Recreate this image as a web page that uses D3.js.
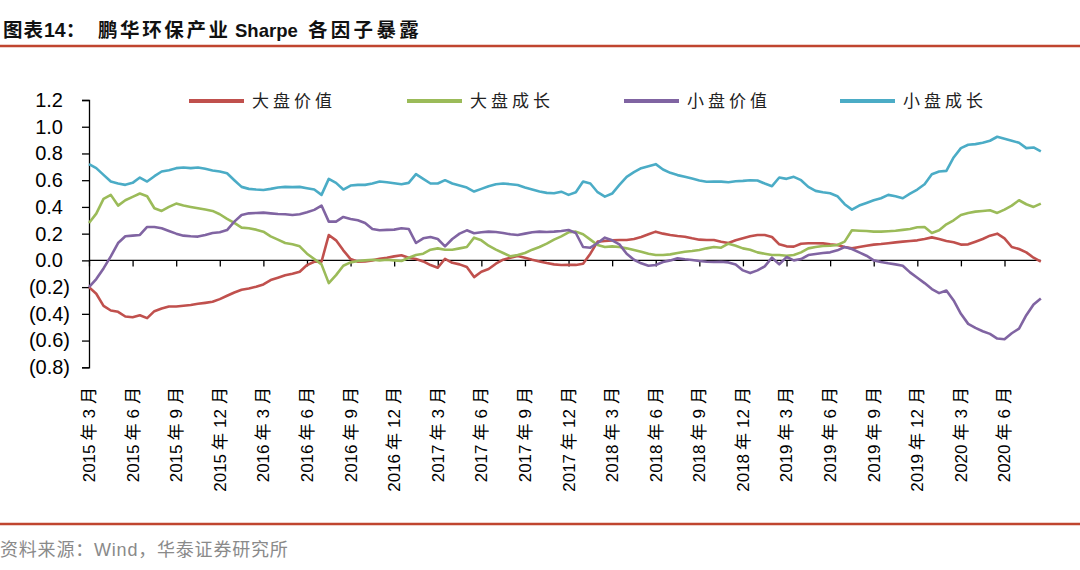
<!DOCTYPE html>
<html><head><meta charset="utf-8">
<script src="https://cdn.jsdelivr.net/npm/d3@7"></script>
<style>
html,body{margin:0;padding:0;background:#fff;}
svg{display:block;}
text{font-family:"Liberation Sans",Arial,"Noto Sans CJK SC",sans-serif;}
</style></head>
<body><svg id="c" width="1080" height="570"></svg>
<script>
// ---------- data ----------
const seriesNames = ["大盘价值","大盘成长","小盘价值","小盘成长"];
const seriesColors = ["#c0504d","#9bbb59","#8064a2","#4bacc6"];
const xTickLabels = ["2015年3月","2015年6月","2015年9月","2015年12月","2016年3月","2016年6月","2016年9月","2016年12月","2017年3月","2017年6月","2017年9月","2017年12月","2018年3月","2018年6月","2018年9月","2018年12月","2019年3月","2019年6月","2019年9月","2019年12月","2020年3月","2020年6月"];
const yTicks = [-0.8,-0.6,-0.4,-0.2,0,0.2,0.4,0.6,0.8,1.0,1.2];
// samples every half month starting 2015年3月
const largeValue = [-0.20,-0.25,-0.34,-0.375,-0.385,-0.42,-0.425,-0.41,-0.432,-0.38,-0.36,-0.345,-0.345,-0.34,-0.334,-0.325,-0.318,-0.31,-0.29,-0.265,-0.24,-0.22,-0.21,-0.197,-0.18,-0.147,-0.13,-0.112,-0.10,-0.085,-0.035,-0.01,-0.01,0.19,0.15,0.075,0.01,-0.01,-0.008,0.0,0.012,0.02,0.03,0.038,0.02,0.01,-0.008,-0.035,-0.055,0.012,-0.018,-0.03,-0.05,-0.125,-0.085,-0.065,-0.025,0.005,0.02,0.033,0.02,0.005,-0.008,-0.02,-0.03,-0.035,-0.034,-0.034,-0.025,0.05,0.14,0.145,0.15,0.153,0.153,0.16,0.175,0.195,0.215,0.20,0.19,0.182,0.177,0.165,0.155,0.152,0.153,0.14,0.13,0.15,0.165,0.18,0.19,0.19,0.175,0.12,0.105,0.103,0.125,0.128,0.128,0.127,0.12,0.115,0.10,0.09,0.10,0.11,0.118,0.122,0.128,0.135,0.14,0.145,0.15,0.16,0.172,0.16,0.145,0.135,0.118,0.12,0.14,0.16,0.185,0.20,0.165,0.10,0.085,0.06,0.02,-0.01];
const largeGrowth = [0.28,0.35,0.46,0.49,0.41,0.45,0.475,0.50,0.48,0.39,0.37,0.40,0.425,0.41,0.40,0.39,0.38,0.37,0.345,0.31,0.28,0.245,0.24,0.23,0.215,0.18,0.155,0.13,0.12,0.105,0.05,0.01,-0.03,-0.17,-0.11,-0.04,-0.015,-0.005,0.0,0.005,0.0,0.005,0.0,-0.005,0.02,0.04,0.05,0.08,0.09,0.08,0.08,0.09,0.10,0.17,0.15,0.11,0.08,0.055,0.03,0.04,0.055,0.08,0.10,0.125,0.155,0.18,0.21,0.215,0.195,0.155,0.115,0.10,0.105,0.10,0.09,0.078,0.065,0.05,0.04,0.04,0.045,0.055,0.065,0.07,0.078,0.09,0.10,0.095,0.125,0.11,0.09,0.08,0.06,0.05,0.04,0.04,0.035,0.04,0.06,0.09,0.10,0.108,0.11,0.115,0.14,0.225,0.222,0.22,0.215,0.215,0.218,0.222,0.228,0.235,0.248,0.25,0.205,0.225,0.27,0.30,0.34,0.355,0.365,0.37,0.375,0.355,0.38,0.41,0.45,0.42,0.40,0.425];
const smallValue = [-0.20,-0.14,-0.06,0.03,0.13,0.18,0.185,0.19,0.25,0.25,0.24,0.22,0.20,0.185,0.18,0.178,0.19,0.205,0.21,0.227,0.29,0.34,0.352,0.355,0.357,0.352,0.347,0.345,0.34,0.345,0.36,0.378,0.41,0.29,0.29,0.325,0.31,0.30,0.28,0.235,0.225,0.228,0.23,0.24,0.235,0.13,0.165,0.175,0.16,0.105,0.16,0.20,0.225,0.203,0.21,0.215,0.212,0.205,0.195,0.19,0.20,0.21,0.215,0.212,0.215,0.22,0.227,0.205,0.10,0.095,0.13,0.17,0.15,0.12,0.05,0.005,-0.022,-0.04,-0.035,-0.012,0.0,0.015,0.008,0.003,-0.005,-0.01,-0.012,-0.01,-0.015,-0.03,-0.075,-0.095,-0.075,-0.045,0.02,-0.03,0.025,0.0,0.01,0.04,0.048,0.055,0.06,0.075,0.10,0.085,0.06,0.035,0.0,-0.012,-0.022,-0.03,-0.04,-0.09,-0.13,-0.17,-0.215,-0.245,-0.225,-0.30,-0.40,-0.475,-0.505,-0.53,-0.55,-0.585,-0.59,-0.545,-0.51,-0.41,-0.33,-0.285];
const smallGrowth = [0.72,0.69,0.64,0.59,0.575,0.565,0.58,0.62,0.59,0.63,0.665,0.675,0.69,0.695,0.69,0.695,0.685,0.672,0.665,0.652,0.60,0.55,0.535,0.53,0.527,0.535,0.545,0.55,0.548,0.55,0.54,0.53,0.49,0.61,0.58,0.53,0.56,0.565,0.565,0.575,0.59,0.585,0.577,0.57,0.58,0.645,0.61,0.575,0.575,0.60,0.575,0.56,0.545,0.515,0.535,0.555,0.57,0.575,0.57,0.564,0.545,0.53,0.515,0.505,0.502,0.514,0.49,0.51,0.59,0.575,0.51,0.477,0.50,0.565,0.625,0.66,0.69,0.705,0.72,0.68,0.655,0.638,0.625,0.612,0.598,0.588,0.59,0.589,0.585,0.592,0.595,0.60,0.598,0.575,0.555,0.62,0.61,0.625,0.60,0.55,0.52,0.51,0.502,0.48,0.42,0.38,0.41,0.43,0.45,0.465,0.49,0.48,0.465,0.50,0.53,0.57,0.645,0.665,0.67,0.77,0.84,0.865,0.87,0.88,0.895,0.925,0.91,0.895,0.88,0.84,0.845,0.815];
const seriesData = [largeValue, largeGrowth, smallValue, smallGrowth];
const stepMonths = 0.5;

// ---------- layout ----------
const svg = d3.select("#c");
const x0 = 89, xLastTick = 1004.5, yTop = 100, yBot = 367.3;
const nTicks = xTickLabels.length;
const x = d3.scaleLinear().domain([0, (nTicks-1)*3]).range([x0, xLastTick]);
const y = d3.scaleLinear().domain([-0.8, 1.2]).range([yBot, yTop]);
const nPts = largeValue.length;
const months = d3.range(nPts).map(i => i*stepMonths);
const xEnd = x(months[nPts-1]);

// title
const cjk = "'Noto Sans CJK SC','Liberation Sans',sans-serif";
const title = svg.append("text").attr("y",37).attr("font-size",19.5).attr("font-weight","bold").attr("fill","#111")
  .attr("font-family",cjk);
title.append("tspan").attr("x",3).attr("letter-spacing",1).text("图表");
title.append("tspan").attr("font-family","'Liberation Sans',Arial,sans-serif").text("14");
title.append("tspan").text("：");
title.append("tspan").attr("x",98).attr("letter-spacing",2.6).text("鹏华环保产业");
title.append("tspan").attr("x",235).attr("font-family","'Liberation Sans',Arial,sans-serif").attr("font-size",18.5).text("Sharpe");
title.append("tspan").attr("x",308).attr("letter-spacing",3.3).text("各因子暴露");
svg.append("line").attr("x1",0).attr("x2",1080).attr("y1",46).attr("y2",46).attr("stroke","#c0452f").attr("stroke-width",2.5);

// bottom rule and source
svg.append("line").attr("x1",0).attr("x2",1080).attr("y1",524).attr("y2",524).attr("stroke","#c0452f").attr("stroke-width",2.5);
svg.append("text").attr("x",0).attr("y",556).attr("font-size",18).attr("letter-spacing",0.8).attr("fill","#8a8a8a")
  .attr("font-family",cjk)
  .text("资料来源：Wind，华泰证券研究所");

// y axis
const yAxis = d3.axisLeft(y).tickValues(yTicks).tickSize(7).tickPadding(0)
  .tickFormat(v => v < 0 ? "(" + Math.abs(v).toFixed(1) + ")" : v.toFixed(1));
const gy = svg.append("g").attr("transform",`translate(${x0},0)`).call(yAxis);
gy.select(".domain").attr("stroke","#000").attr("stroke-width",1.3);
gy.selectAll(".tick line").attr("stroke","#000").attr("stroke-width",1.3);
gy.selectAll(".tick text").attr("font-size",20).attr("fill","#000")
  .attr("font-family","'Liberation Sans',Arial,sans-serif")
  .attr("x", d => d < 0 ? -19 : -26);

// x axis at zero
const gx = svg.append("g").attr("transform",`translate(0,${y(0)})`);
gx.append("line").attr("x1",x0).attr("x2",xEnd).attr("stroke","#000").attr("stroke-width",1.3);
const xAxis = d3.axisBottom(x).tickValues(d3.range(nTicks).map(i=>i*3)).tickSize(6).tickFormat("");
const gxt = gx.append("g").call(xAxis);
gxt.select(".domain").remove();
gxt.selectAll(".tick line").attr("stroke","#000").attr("stroke-width",1.3);

// x tick labels (rotated)
const lab = svg.append("g").selectAll("text").data(xTickLabels).join("text")
  .attr("transform",(d,i)=>`translate(${x(i*3)},387) rotate(-90)`)
  .attr("text-anchor","end").attr("dy","0.35em").attr("font-size",17).attr("fill","#000");
lab.each(function(d){
  const m = d.match(/^(\d+)年(\d+)月$/);
  const t = d3.select(this);
  t.append("tspan").text(m[1]);
  t.append("tspan").attr("dx",4).text("年");
  t.append("tspan").attr("dx",5).text(m[2]);
  t.append("tspan").attr("dx",5).text("月");
});

// lines
const line = d3.line().x((d,i)=>x(months[i])).y(d=>y(d));
svg.append("g").selectAll("path").data(seriesData).join("path")
  .attr("d", d=>line(d)).attr("fill","none")
  .attr("stroke",(d,i)=>seriesColors[i]).attr("stroke-width",2.6).attr("stroke-linejoin","round");

// legend
const legX = [189, 407, 624, 840];
const lg = svg.append("g").selectAll("g").data(seriesNames).join("g")
  .attr("transform",(d,i)=>`translate(${legX[i]},101)`);
lg.append("line").attr("x1",0).attr("x2",55).attr("stroke",(d,i)=>seriesColors[i]).attr("stroke-width",4);
lg.append("text").attr("x",63).attr("dy","0.36em").attr("font-size",17).attr("letter-spacing",4)
  .attr("fill","#222").attr("font-family","'Noto Sans CJK SC',sans-serif").text(d=>d);
</script></body></html>
